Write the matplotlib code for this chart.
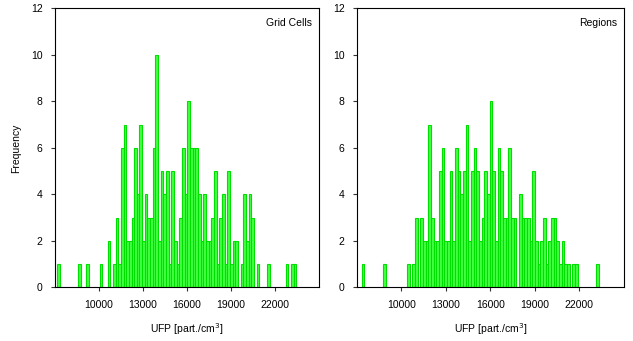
import numpy as np
import matplotlib.pyplot as plt

plt.rcParams['font.family'] = ['Liberation Sans', 'DejaVu Sans']
plt.rcParams['font.size'] = 7.5

# histogram counts, one value per bin (uniform bins)
grid_start = 7137
grid_width = 181.4
grid_counts = [1, 0, 0, 0, 0, 0, 0, 0, 1, 0,
               0, 1, 0, 0, 0, 0, 1, 0, 0, 2,
               0, 1, 3, 1, 6, 7, 2, 2, 3, 6,
               4, 7, 2, 4, 3, 3, 6, 10, 2, 5,
               4, 5, 1, 5, 2, 1, 3, 6, 4, 8,
               6, 6, 6, 4, 2, 4, 2, 2, 3, 5,
               1, 3, 4, 1, 5, 1, 2, 2, 0, 1,
               4, 2, 4, 3, 0, 1, 0, 0, 0, 1,
               0, 0, 0, 0, 0, 0, 1, 0, 1, 1]

region_start = 7308
region_width = 180.1
region_counts = [1, 0, 0, 0, 0, 0, 0, 0, 1, 0,
                 0, 0, 0, 0, 0, 0, 0, 1, 0, 1,
                 3, 0, 3, 2, 2, 7, 3, 2, 2, 5,
                 6, 2, 2, 5, 2, 6, 5, 4, 5, 7,
                 2, 5, 6, 5, 2, 3, 5, 4, 8, 5,
                 2, 6, 5, 3, 3, 6, 3, 3, 0, 4,
                 3, 3, 3, 2, 5, 2, 1, 2, 3, 1,
                 2, 3, 3, 2, 1, 2, 1, 1, 0, 1,
                 1, 0, 0, 0, 0, 0, 0, 0, 1]

x_ticks = [10000, 13000, 16000, 19000, 22000]
y_ticks = [0, 2, 4, 6, 8, 10, 12]

panels = [
    ("Grid Cells", grid_start, grid_width, grid_counts),
    ("Regions", region_start, region_width, region_counts),
]

fig = plt.figure(figsize=(6.33, 3.41), dpi=100)
ax_left = fig.add_axes([0.0869, 0.157, 0.417, 0.819])
ax_right = fig.add_axes([0.564, 0.157, 0.421, 0.819])

for ax, (name, start, width, counts) in zip([ax_left, ax_right], panels):
    counts = np.array(counts)
    edges = start + width * np.arange(len(counts))
    keep = counts > 0
    ax.bar(edges[keep], counts[keep], width=width, align='edge',
           facecolor='#44ff44', edgecolor='#00e000', linewidth=0.8)
    ax.set_xlim(7000, 25000)
    ax.set_ylim(0, 12)
    ax.set_xticks(x_ticks)
    ax.set_yticks(y_ticks)
    ax.tick_params(direction='out', length=3, width=0.8, pad=6, colors='#333333',
                   labelcolor='black')
    for sp in ax.spines.values():
        sp.set_linewidth(0.8)
    ax.set_xlabel("UFP [part./cm$^3$]", labelpad=8)
    ax.text(0.975, 0.965, name, transform=ax.transAxes, ha='right', va='top')

ax_left.set_ylabel("Frequency", labelpad=7)

fig.savefig("out.png", dpi=100)
